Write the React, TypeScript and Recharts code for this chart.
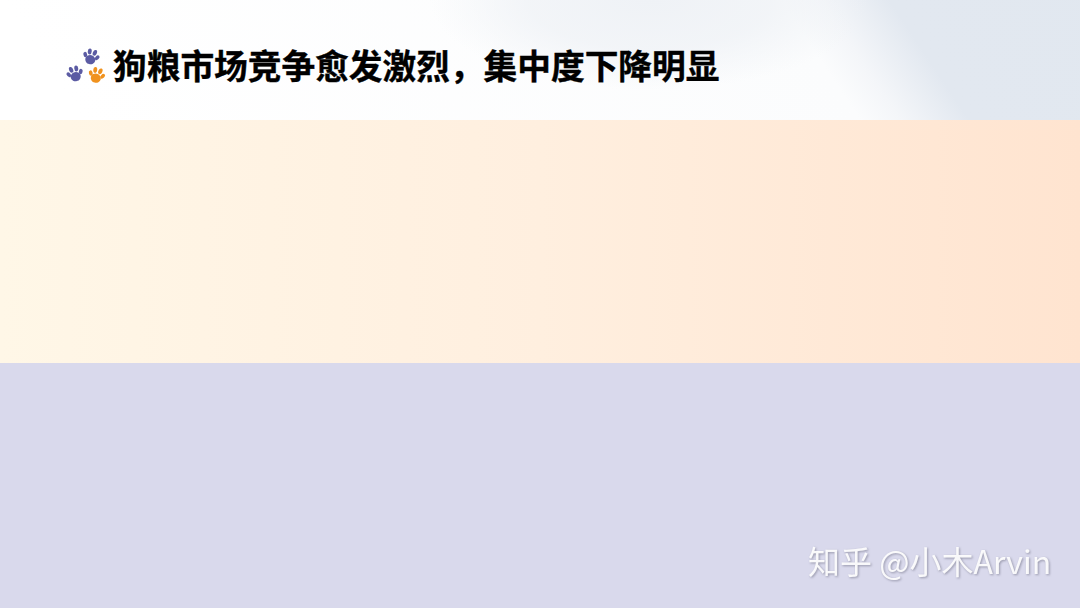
import { BarChart, Bar, XAxis, YAxis } from "recharts";

// the slide holds no readable data: only a title, two empty panels and a watermark
const bandNames = ["header", "upperPanel", "lowerPanel"];
const bandHeights = [120, 243, 245];
const titleText = "狗粮市场竞争愈发激烈，集中度下降明显";
const watermarkText = "知乎 @小木Arvin";

const chartRows = [
  Object.fromEntries([["name", "slide"], ...bandNames.map((n, i) => [n, bandHeights[i]])]),
];

function Paw({ x, y, color, angle }: { x: number; y: number; color: string; angle: number }) {
  return (
    <g transform={`translate(${x} ${y}) rotate(${angle}) scale(1.1)`} fill={color}>
      <ellipse cx={0} cy={2.5} rx={4.6} ry={4.2} />
      <ellipse cx={-5.6} cy={-0.8} rx={1.7} ry={2.5} transform="rotate(-30 -5.6 -0.8)" />
      <ellipse cx={-2.4} cy={-4.6} rx={1.8} ry={2.7} transform="rotate(-10 -2.4 -4.6)" />
      <ellipse cx={2.4} cy={-4.6} rx={1.8} ry={2.7} transform="rotate(10 2.4 -4.6)" />
      <ellipse cx={5.6} cy={-0.8} rx={1.7} ry={2.5} transform="rotate(30 5.6 -0.8)" />
    </g>
  );
}

export default function App() {
  return (
    <div style={{ position: "absolute", left: 0, top: 0, width: 1080, height: 608, overflow: "hidden" }}>
      <BarChart
        width={1080}
        height={608}
        data={chartRows}
        margin={{ top: 0, right: 0, bottom: 0, left: 0 }}
        barCategoryGap={0}
      >
        <defs>
          <linearGradient id="headFill" gradientUnits="userSpaceOnUse" x1={0} y1={0} x2={1080} y2={-720}>
            <stop offset="0%" stopColor="#ffffff" />
            <stop offset="50%" stopColor="#fbfcfd" />
            <stop offset="52.6%" stopColor="#f4f6f9" />
            <stop offset="57%" stopColor="#e2e8f0" />
            <stop offset="100%" stopColor="#e0e7ef" />
          </linearGradient>
          <linearGradient id="upperFill" x1="0" y1="0" x2="1" y2="0">
            <stop offset="0%" stopColor="#fff7e7" />
            <stop offset="50%" stopColor="#ffefdf" />
            <stop offset="100%" stopColor="#ffe4d0" />
          </linearGradient>
        </defs>
        <XAxis dataKey="name" hide />
        <YAxis hide reversed domain={[0, 608]} />
        <Bar dataKey="header" stackId="s" fill="url(#headFill)" isAnimationActive={false} />
        <Bar dataKey="upperPanel" stackId="s" fill="url(#upperFill)" isAnimationActive={false} />
        <Bar dataKey="lowerPanel" stackId="s" fill="#d9d9ec" isAnimationActive={false} />
      </BarChart>
      <svg width={1080} height={608} style={{ position: "absolute", left: 0, top: 0 }}>
        <defs>
          <radialGradient id="headBlob" cx="0.5" cy="0.5" r="0.5">
            <stop offset="0%" stopColor="#eff2f6" stopOpacity={1} />
            <stop offset="55%" stopColor="#eff2f6" stopOpacity={0.75} />
            <stop offset="100%" stopColor="#eff2f6" stopOpacity={0} />
          </radialGradient>
        </defs>
        <rect x={430} y={-90} width={440} height={180} fill="url(#headBlob)" />
        <Paw x={91} y={57} color="#5b5ba3" angle={15} />
        <Paw x={75} y={74} color="#5b5ba3" angle={-15} />
        <Paw x={96.5} y={75.5} color="#f0921e" angle={15} />
        <text
          x={113}
          y={79}
          fontFamily="'Noto Sans CJK SC'"
          fontWeight={700}
          fontSize={33.7}
          fill="#000000"
          stroke="#000000"
          strokeWidth={0.4}
        >
          {titleText}
        </text>
        <text
          x={808}
          y={574}
          fontFamily="'Noto Sans CJK SC'"
          fontWeight={400}
          fontSize={32}
          fill="#ffffff"
          fillOpacity={0.92}
          style={{ filter: "drop-shadow(1px 1px 1px rgba(90,90,110,0.55))" }}
        >
          {watermarkText}
        </text>
      </svg>
    </div>
  );
}
